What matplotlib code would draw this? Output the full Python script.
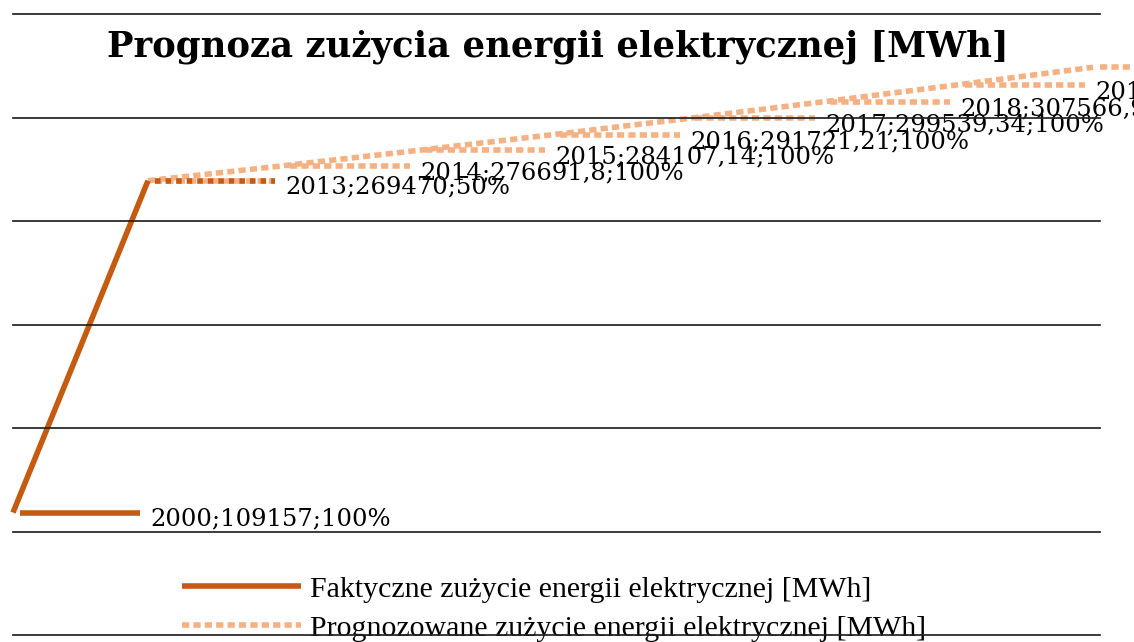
import matplotlib.pyplot as plt
from matplotlib.lines import Line2D

# categories on the (hidden) x axis
years = ['2000', '2013', '2014', '2015', '2016', '2017', '2018', '2019', '2020']

# actual consumption [MWh] at 2000 and 2013
actual = [109157, 269470]
actual_labels = ['2000;109157;100%', '2013;269470;50%']

# forecast consumption [MWh], from 2013 on
forecast = [269470, 276691.8, 284107.14, 291721.21, 299539.34, 307566.99, 315809.79, 324273.49]
forecast_labels = ['', '2014;276691,8;100%', '2015;284107,14;100%', '2016;291721,21;100%',
                   '2017;299539,34;100%', '2018;307566,99;100%', '2019;315809,79;100%',
                   '2020;324273,49;100%']

gridvals = [50000, 100000, 150000, 200000, 250000, 300000, 350000]

DARK = '#C55A11'
LIGHT = '#F4B183'
LW = 4.0
DOTS = (0, (1.3, 0.75))

fig = plt.figure(figsize=(11.34, 6.42), dpi=100)
ax = fig.add_axes([13 / 1134, 7 / 642, 1087 / 1134, 621 / 642])
ax.set_xlim(0, 1087 / 135)
ax.set_ylim(50000, 350000)
ax.axis('off')
for v in gridvals:
    ax.plot([0, ax.get_xlim()[1]], [v, v], color='#222222', lw=1.25, zorder=8, clip_on=False)

xa = list(range(len(actual)))
xf = list(range(1, 1 + len(forecast)))

ax.plot(xf, forecast, color=LIGHT, lw=LW, linestyle=DOTS, dash_capstyle='butt', zorder=3, clip_on=False)
ax.plot(xa, actual, color=DARK, lw=LW, solid_capstyle='butt', zorder=4, clip_on=False)

# data labels with legend keys
lab_font = dict(family='DejaVu Serif', fontsize=17.5, color='black')
for x, v, t in zip(xf, forecast, forecast_labels):
    ax.plot([x + 0.05, x + 0.94], [v, v], color=LIGHT, lw=LW, linestyle=DOTS,
            dash_capstyle='butt', zorder=3, clip_on=False)
    if t:
        ax.annotate(t, (x, v), xytext=(137, -7), textcoords='offset pixels',
                    va='center', ha='left', zorder=6, annotation_clip=False, **lab_font)
for i, (x, v, t) in enumerate(zip(xa, actual, actual_labels)):
    ls = '-' if i == 0 else (0, (1.0, 0.9))
    ax.plot([x + 0.05, x + 0.94], [v, v], color=DARK, lw=LW, linestyle=ls,
            solid_capstyle='butt', dash_capstyle='butt', zorder=4, clip_on=False)
    ax.annotate(t, (x, v), xytext=(137, -6), textcoords='offset pixels',
                va='center', ha='left', zorder=6, annotation_clip=False, **lab_font)

fig.text(558 / 1134, 1 - 47 / 642, 'Prognoza zużycia energii elektrycznej [MWh]',
         family='DejaVu Serif', fontweight='heavy', fontsize=25.5, ha='center', va='center')

handles = [Line2D([], [], color=DARK, lw=LW, solid_capstyle='butt'),
           Line2D([], [], color=LIGHT, lw=LW, linestyle=DOTS, dash_capstyle='butt')]
leg = ax.legend(handles, ['Faktyczne zużycie energii elektrycznej [MWh]',
                          'Prognozowane zużycie energii elektrycznej [MWh]'],
                loc='upper left', bbox_to_anchor=(167 / 1134, 1 - 561 / 642),
                bbox_transform=fig.transFigure, frameon=False,
                prop={'family': 'Liberation Serif', 'size': 21.5},
                handlelength=4.0, handletextpad=0.3, labelspacing=0.4, borderpad=0)
leg.set_zorder(5)

fig.savefig('out.png', dpi=100)
